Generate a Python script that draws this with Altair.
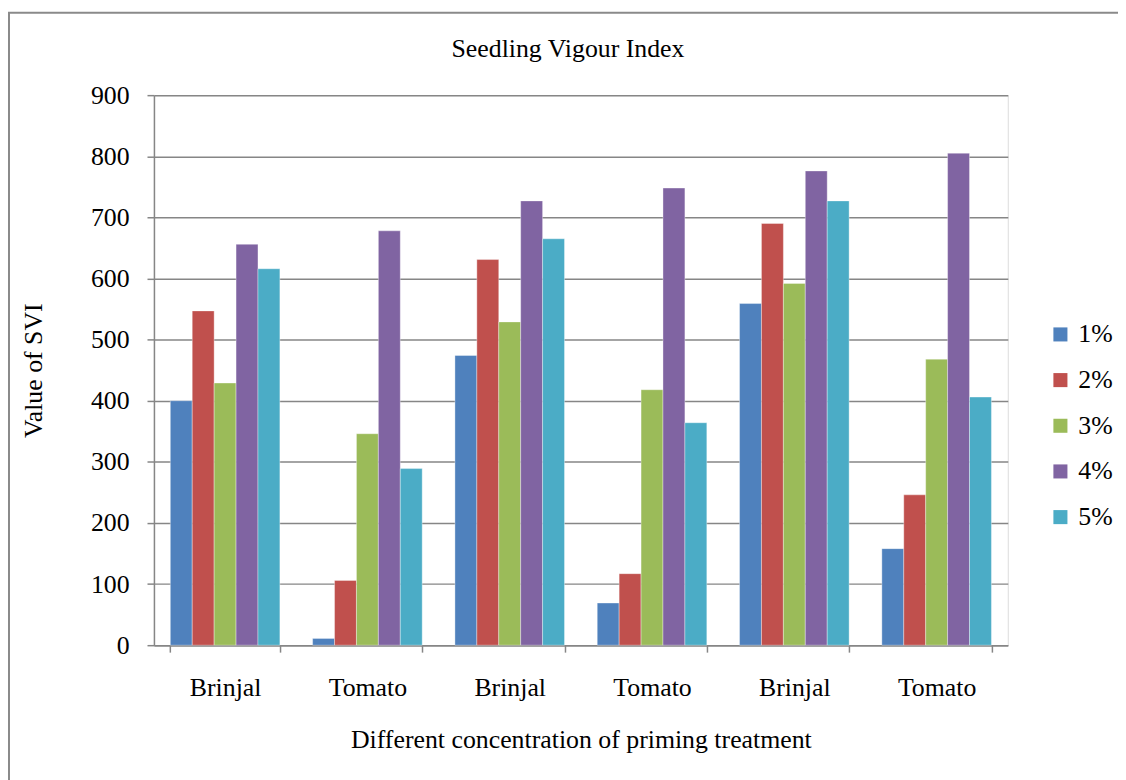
import altair as alt
import pandas as pd

groups = ["Brinjal", "Tomato", "Brinjal", "Tomato", "Brinjal", "Tomato"]
series = ["1%", "2%", "3%", "4%", "5%"]
v1 = [400, 11, 474, 69, 559, 158]
v2 = [547, 106, 631, 117, 690, 246]
v3 = [429, 346, 529, 418, 592, 468]
v4 = [656, 678, 727, 748, 776, 805]
v5 = [616, 289, 665, 364, 727, 406]
colors = ["#4F81BD", "#C0504D", "#9BBB59", "#8064A2", "#4BACC6"]
chart_title = "Seedling Vigour Index"

rows = []
for s, vals in zip(series, [v1, v2, v3, v4, v5]):
    for i, v in enumerate(vals):
        rows.append({"g": i, "series": s, "value": v})
df = pd.DataFrame(rows)

FONT = "Liberation Serif"
FS = 26
GRAY = "#868686"
label_expr = "[" + ",".join("'%s'" % g for g in groups) + "][datum.value]"

bars = alt.Chart(df).mark_bar(stroke="#ffffff", strokeWidth=0.6, strokeOpacity=0.6).encode(
    x=alt.X("g:O",
            scale=alt.Scale(paddingInner=0.23, paddingOuter=0.115),
            axis=alt.Axis(title="Different concentration of priming treatment",
                          labelExpr=label_expr, labelAngle=0,
                          tickBand="extent", tickSize=7, tickColor=GRAY, tickWidth=1.5,
                          domainColor=GRAY, domainWidth=1.5,
                          labelFont=FONT, labelFontSize=FS, labelColor="#000000",
                          labelPadding=23, titleFont=FONT, titleFontSize=FS,
                          titleFontWeight="normal", titleColor="#000000", titlePadding=26)),
    xOffset=alt.XOffset("series:N", sort=series, scale=alt.Scale(paddingInner=0, paddingOuter=0)),
    y=alt.Y("value:Q", scale=alt.Scale(domain=[0, 900]),
            axis=alt.Axis(title="Value of SVI", values=list(range(0, 901, 100)),
                          tickSize=7, tickColor=GRAY, tickWidth=1.5,
                          domainColor=GRAY, domainWidth=1.5,
                          gridColor=GRAY, gridWidth=1.5,
                          labelFont=FONT, labelFontSize=FS, labelColor="#000000",
                          labelPadding=18, titleFont=FONT, titleFontSize=FS,
                          titleFontWeight="normal", titleColor="#000000", titlePadding=44)),
    color=alt.Color("series:N", sort=series,
                    scale=alt.Scale(domain=series, range=colors),
                    legend=alt.Legend(title=None, orient="none", legendX=900, legendY=228,
                                      symbolType="square", symbolSize=200, symbolStrokeWidth=0,
                                      labelFont=FONT, labelFontSize=FS, labelColor="#000000",
                                      rowPadding=20, labelOffset=5)),
)

border = alt.Chart(pd.DataFrame({"a": [0]})).mark_rect(
    fill=None, stroke="#8a8a8a", strokeWidth=2
).encode(x=alt.value(-146), x2=alt.value(1100), y=alt.value(-83), y2=alt.value(800))

title = alt.Chart(pd.DataFrame({"t": [chart_title]})).mark_text(
    font=FONT, fontSize=FS, color="#000000", align="center", baseline="alphabetic"
).encode(text="t:N", x=alt.value(417), y=alt.value(-38))

chart = alt.layer(border, bars, title).properties(
    width=860, height=554,
    autosize=alt.AutoSizeParams(type="none"),
    padding={"left": 147, "top": 85, "right": 111, "bottom": 133},
).configure_view(stroke=None).configure(background="#ffffff")

chart.save("out.html", embed_options={"renderer": "svg", "actions": False})
